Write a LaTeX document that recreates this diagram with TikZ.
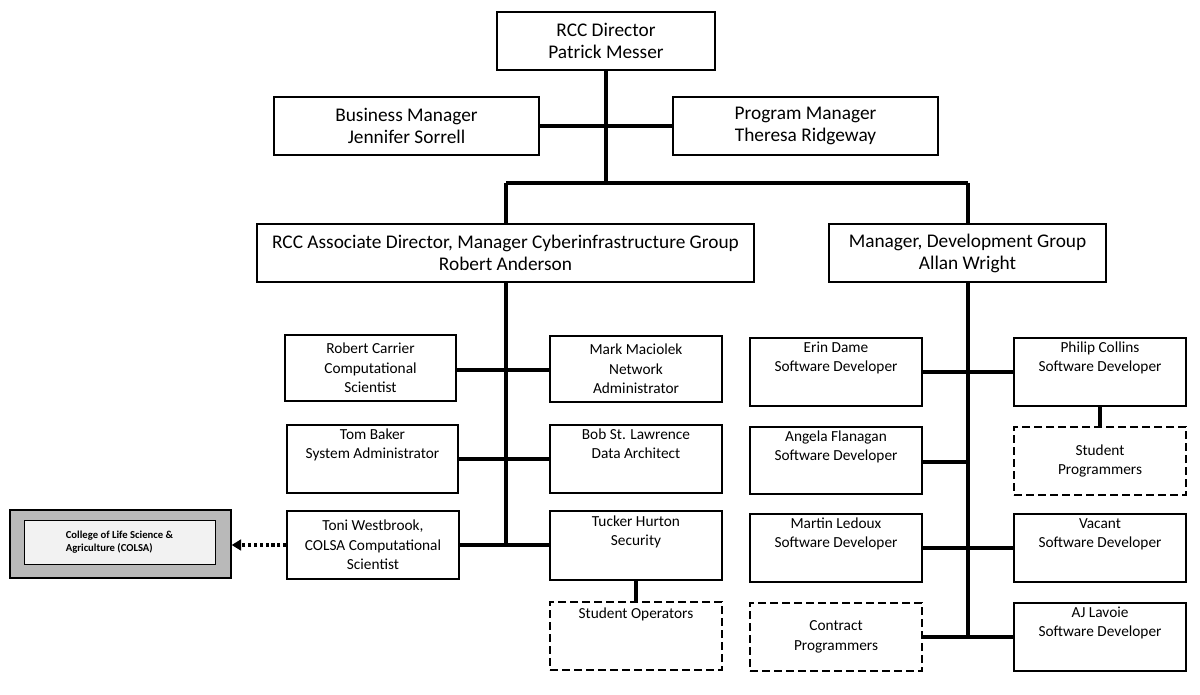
\documentclass[tikz,border=0pt]{standalone}
\usepackage{fontspec}
\setmainfont{Carlito}
\usetikzlibrary{arrows.meta}
\begin{document}
\begin{tikzpicture}[x=0.75pt,y=-0.75pt,
 bx/.style={draw,line width=1pt,fill=white,align=center,inner sep=0pt},
 big/.style={bx,font=\fontsize{14.5}{16.5}\selectfont},
 sm/.style={bx,font=\fontsize{11.5}{14.5}\selectfont},
 dsh/.style={sm,dash pattern=on 6pt off 3pt},
 ln/.style={line width=2.6pt}]
\useasboundingbox (0,0) rectangle (1200,695);
\newcommand{\bxat}[6]{\node[#1,minimum width=#4*0.75pt-#2*0.75pt,minimum height=#5*0.75pt-#3*0.75pt] (#6) at ({(#2+#4)/2},{(#3+#5)/2})}
\bxat{big}{497}{12}{715}{70}{dir} {RCC Director\\Patrick Messer};
\bxat{big}{274}{97}{539}{155}{bm} {Business Manager\\Jennifer Sorrell};
\bxat{big}{673}{97}{938}{155}{pm} {Program Manager\\Theresa Ridgeway};
\bxat{big}{257}{224}{754}{282}{ad} {RCC Associate Director, Manager Cyberinfrastructure Group\\Robert Anderson};
\bxat{big}{829}{224}{1106}{282}{dg} {Manager, Development Group\\Allan Wright};
\bxat{sm}{285}{335}{456}{401}{rc} {Robert Carrier\\Computational\\Scientist};
\bxat{sm}{550}{336}{722}{402}{mm} {Mark Maciolek\\Network\\Administrator};
\bxat{sm}{287}{425}{458}{493}{tb} {Tom Baker\\System Administrator\\[8pt]};
\bxat{sm}{550}{425}{722}{493}{bs} {Bob St. Lawrence\\Data Architect\\[8pt]};
\bxat{sm}{287}{511}{459}{579}{tw} {Toni Westbrook,\\COLSA Computational\\Scientist};
\bxat{sm}{550}{511}{722}{580}{th} {Tucker Hurton\\Security\\[8pt]};
\bxat{dsh}{550}{602}{722}{670}{so} {Student Operators\\[20pt]};
\bxat{sm}{750}{338}{922}{406}{ed} {Erin Dame\\Software Developer\\[8pt]};
\bxat{sm}{1014}{338}{1186}{406}{pc} {Philip Collins\\Software Developer\\[8pt]};
\bxat{dsh}{1014}{427}{1186}{495}{sp} {Student\\Programmers};
\bxat{sm}{750}{427}{922}{494}{af} {Angela Flanagan\\Software Developer\\[8pt]};
\bxat{sm}{750}{514}{922}{582}{ml} {Martin Ledoux\\Software Developer\\[8pt]};
\bxat{sm}{1014}{514}{1186}{582}{va} {Vacant\\Software Developer\\[8pt]};
\bxat{dsh}{750}{603}{922}{671}{cp} {Contract\\Programmers};
\bxat{sm}{1014}{603}{1186}{671}{aj} {AJ Lavoie\\Software Developer\\[8pt]};
\node[draw,line width=1pt,fill=gray!55,minimum width=221*0.75pt,minimum height=68*0.75pt] (co) at (120.5,544) {};
\node[draw,fill=gray!10,minimum width=191*0.75pt,minimum height=44*0.75pt,align=left,font=\bfseries\fontsize{8}{10}\selectfont] (ci) at (119.5,542) {College of Life Science \&\\Agriculture (COLSA)};
\coordinate (j1) at (606,183);
\coordinate (jl) at (506,183);
\coordinate (jr) at (968,183);
\coordinate (lb) at (506,545);
\coordinate (rb) at (968,637);
\draw[ln] (bm.east) -- (pm.west);
\draw[ln] (dir.south) -- (j1);
\draw[ln] (jl) -- (jr);
\draw[ln] (jl) -- (506,224);
\draw[ln] (jr) -- (968,224);
\draw[ln] (506,282) -- (lb);
\draw[ln] (968,282) -- (rb);
\draw[ln] (rc.east|-0,370) -- (mm.west|-0,370);
\draw[ln] (tb.east|-0,459) -- (bs.west|-0,459);
\draw[ln] (tw.east|-0,545) -- (th.west|-0,545);
\draw[ln] (th.south) -- (so.north);
\draw[ln] (pc.south) -- (sp.north);
\draw[ln] (ed.east|-0,372) -- (pc.west|-0,372);
\draw[ln] (af.east|-0,462) -- (968,462);
\draw[ln] (ml.east|-0,548) -- (va.west|-0,548);
\draw[ln] (cp.east|-0,637) -- (aj.west|-0,637);
\draw[line width=2.4pt,dotted,-{Triangle[width=8pt,length=7pt]}] (tw.west|-0,545) -- (co.east|-0,545);
\end{tikzpicture}
\end{document}
